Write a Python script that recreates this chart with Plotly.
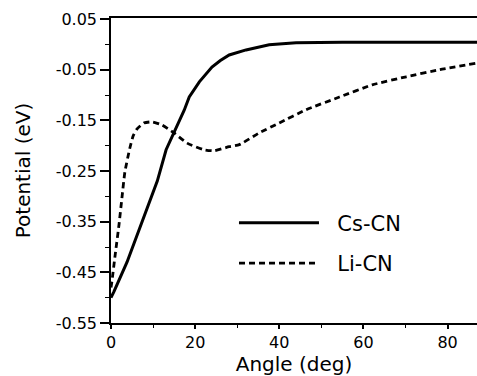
import plotly.graph_objects as go

cs_angle = [0, 0.7, 3.8, 6.2, 8.6, 10.2, 11.0, 13.1, 15, 17.4, 18.6, 21, 24, 26, 28.1, 32.1, 37.6, 44, 55, 70, 87]
cs_pot = [-0.50, -0.488, -0.43, -0.376, -0.323, -0.285, -0.27, -0.208, -0.173, -0.13, -0.104, -0.074, -0.045,
          -0.032, -0.021, -0.011, -0.001, 0.003, 0.004, 0.004, 0.004]

li_angle = [0, 0.2, 1.0, 1.9, 2.6, 3.3, 4.5, 5.3, 6.2, 7.9, 9.8, 12.1, 15, 18.1, 22.1, 24.5, 28.1, 30.5,
            35.2, 40, 46.4, 54.3, 62.1, 70.2, 78.1, 87]
li_pot = [-0.48, -0.469, -0.415, -0.356, -0.303, -0.252, -0.204, -0.18, -0.167, -0.155, -0.153, -0.159,
          -0.175, -0.195, -0.208, -0.210, -0.202, -0.198, -0.175, -0.155, -0.129, -0.104, -0.080, -0.064,
          -0.050, -0.037]

x_ticks = [0, 20, 40, 60, 80]
y_ticks = [0.05, -0.05, -0.15, -0.25, -0.35, -0.45, -0.55]
y_labels = ["0.05", "-0.05", "-0.15", "-0.25", "-0.35", "-0.45", "-0.55"]

FONT = "DejaVu Sans, Liberation Sans, Arial, sans-serif"

fig = go.Figure()
fig.add_trace(go.Scatter(x=cs_angle, y=cs_pot, mode="lines", name="&nbsp;&nbsp;Cs-CN", legendgroup="a",
                         line=dict(color="black", width=3)))
fig.add_trace(go.Scatter(x=li_angle, y=li_pot, mode="lines", name="&nbsp;&nbsp;Li-CN", legendgroup="b",
                         line=dict(color="black", width=2.8, dash="6px,4px", shape="spline", smoothing=0.5)))

fig.update_layout(
    width=477, height=376,
    margin=dict(l=111, r=0, t=18, b=53),
    plot_bgcolor="white", paper_bgcolor="white",
    font=dict(family=FONT, color="black", size=15),
    legend=dict(x=0.336, y=0.262, xanchor="left", yanchor="middle", bgcolor="rgba(0,0,0,0)",
                font=dict(size=21), itemwidth=80, tracegroupgap=10),
    xaxis=dict(range=[0, 87], tickvals=x_ticks, showgrid=False, zeroline=False,
               showline=True, linecolor="black", linewidth=1.5, mirror=True,
               ticks="outside", ticklen=4, tickwidth=1.5, tickcolor="black",
               tickfont=dict(size=16),
               minor=dict(dtick=10, tick0=0, ticks="outside", ticklen=3, tickwidth=1, tickcolor="black"),
               title=dict(text="Angle (deg)", font=dict(size=20), standoff=4)),
    yaxis=dict(range=[-0.55, 0.052], tickvals=y_ticks, ticktext=y_labels, showgrid=False, zeroline=False,
               showline=True, linecolor="black", linewidth=1.5, mirror=False,
               ticks="outside", ticklen=9, tickwidth=1.5, tickcolor="black",
               tickfont=dict(size=16),
               minor=dict(tickvals=[0.0, -0.1, -0.2, -0.3, -0.4, -0.5], ticks="outside", ticklen=4,
                          tickwidth=1, tickcolor="black"),
               title=dict(text="Potential (eV)", font=dict(size=20), standoff=20)),
)

fig.write_html("out.html")
